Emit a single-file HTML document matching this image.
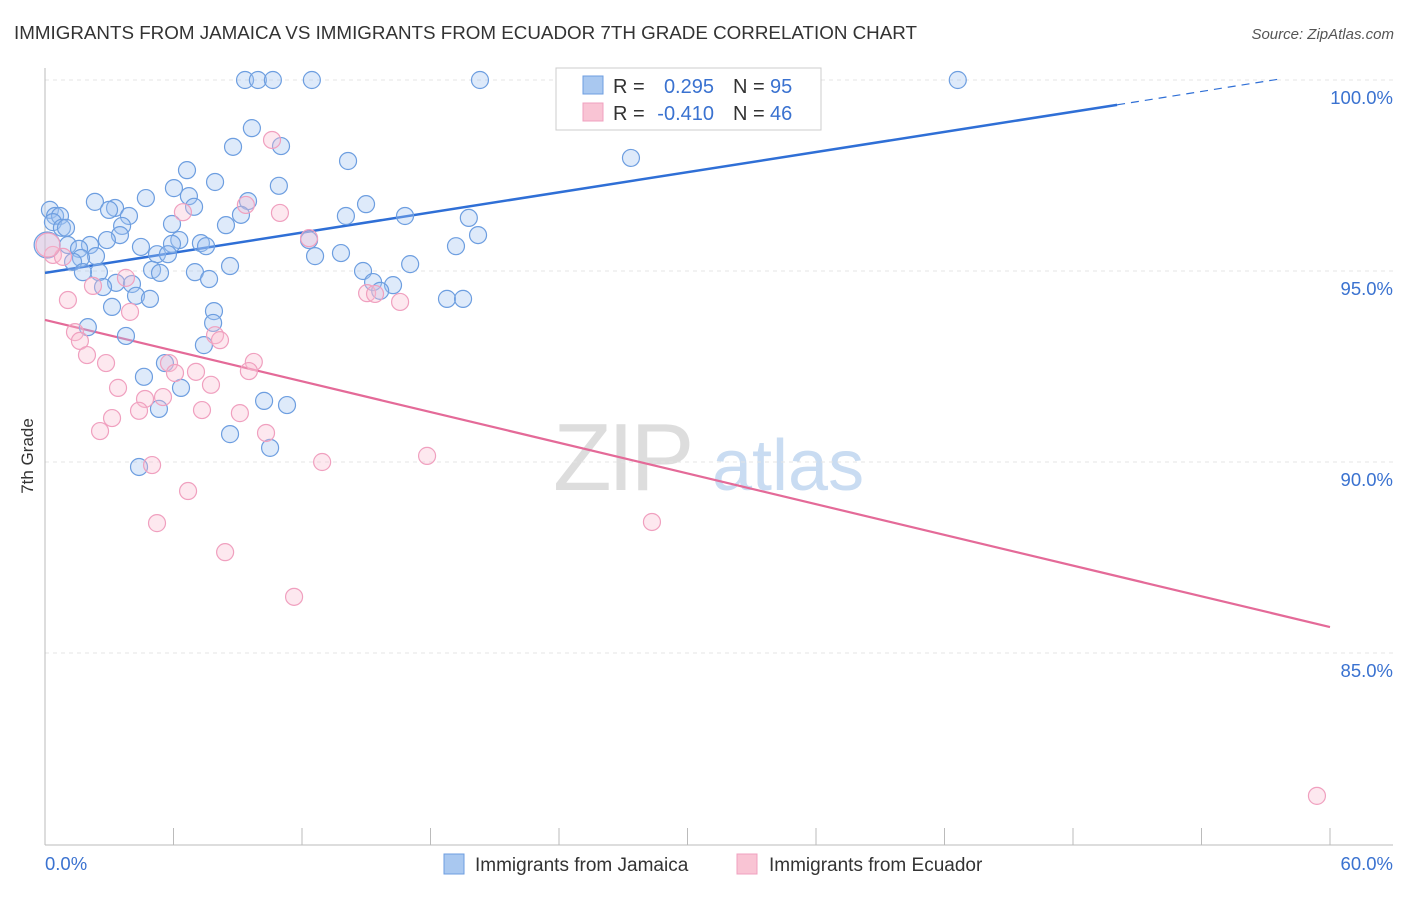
<!DOCTYPE html>
<html><head><meta charset="utf-8"><style>
body{margin:0;background:#fff;font-family:"Liberation Sans",sans-serif}
svg text{font-family:"Liberation Sans",sans-serif}
</style></head><body>
<svg id="chart" width="1406" height="892" xmlns="http://www.w3.org/2000/svg">
<text x="14" y="39" font-size="18.8" fill="#333">IMMIGRANTS FROM JAMAICA VS IMMIGRANTS FROM ECUADOR 7TH GRADE CORRELATION CHART</text>
<text x="1394" y="39" font-size="15" fill="#555" text-anchor="end" font-style="italic">Source: ZipAtlas.com</text>
<g>
<text x="553" y="490" font-size="96" fill="#ddd" font-family="Liberation Serif" letter-spacing="-4">ZIP</text>
<text x="712" y="490" font-size="72" fill="#c9dcf2">atlas</text>
</g>
<g id="grid"></g>
<g id="axes"></g>
<g id="trend"></g>
<g id="pts"></g>
<text transform="translate(33,456) rotate(-90)" font-size="17" fill="#333" text-anchor="middle">7th Grade</text>
<g>
<rect x="556" y="68" width="265" height="62" fill="#fff" stroke="#ccc"/>
<rect x="583" y="76" width="20" height="18" fill="#a9c8f0" stroke="#6d9ee0"/>
<rect x="583" y="103" width="20" height="18" fill="#f9c4d4" stroke="#f0a0bf"/>
<text x="613" y="93" font-size="20" fill="#333">R =</text>
<text x="714" y="93" font-size="20" fill="#3a72d0" text-anchor="end">0.295</text>
<text x="733" y="93" font-size="20" fill="#333">N =</text>
<text x="770" y="93" font-size="20" fill="#3a72d0">95</text>
<text x="613" y="120" font-size="20" fill="#333">R =</text>
<text x="714" y="120" font-size="20" fill="#3a72d0" text-anchor="end">-0.410</text>
<text x="733" y="120" font-size="20" fill="#333">N =</text>
<text x="770" y="120" font-size="20" fill="#3a72d0">46</text>
</g>
<g>
<rect x="444" y="854" width="20" height="20" fill="#a9c8f0" stroke="#6d9ee0"/>
<text x="475" y="871" font-size="19" fill="#333">Immigrants from Jamaica</text>
<rect x="737" y="854" width="20" height="20" fill="#f9c4d4" stroke="#f0a0bf"/>
<text x="769" y="871" font-size="19" fill="#333">Immigrants from Ecuador</text>
</g>
</svg>
<script>
const xTicks=[0,6,12,18,24,30,36,42,48,54,60];
const yGrid=[100,95,90,85];
const yLabels=["100.0%","95.0%","90.0%","85.0%"];
const xLabels=["0.0%","60.0%"];
const blueX=[9.34,9.94,10.64,12.46,20.31,42.62,9.66,11.02,8.78,14.15,27.36,6.63,10.92,7.94,6.02,4.71,2.33,6.72,9.48,14.99,6.96,3.27,2.99,3.92,9.15,14.05,16.81,19.79,0.23,0.47,0.7,0.37,0.79,0.98,3.6,5.93,8.45,3.5,20.22,2.89,6.27,12.33,7.28,7.52,5.93,4.48,2.1,1.07,19.19,13.82,5.23,5.74,1.59,2.38,1.68,1.31,12.61,17.05,8.64,5.0,5.37,7.0,2.52,1.77,14.85,7.66,15.32,16.25,15.65,3.32,4.06,2.71,4.25,4.9,18.77,19.52,3.13,7.89,7.85,2.0,3.78,7.42,5.6,4.62,6.35,10.23,11.3,5.32,8.64,10.51,4.39,0.1];
const blueY=[100,100,100,100,100,100,98.74,98.27,98.25,97.88,97.96,97.64,97.23,97.33,97.17,96.91,96.81,96.96,96.83,96.75,96.68,96.65,96.6,96.44,96.47,96.44,96.44,96.39,96.6,96.44,96.44,96.28,96.13,96.13,96.18,96.23,96.2,95.94,95.94,95.81,95.81,95.81,95.73,95.65,95.71,95.63,95.68,95.68,95.65,95.47,95.44,95.44,95.58,95.39,95.34,95.24,95.39,95.18,95.13,95.03,94.95,94.97,94.97,94.97,95.0,94.79,94.71,94.63,94.48,94.69,94.66,94.58,94.35,94.27,94.27,94.27,94.06,93.95,93.64,93.53,93.3,93.06,92.59,92.23,91.94,91.6,91.49,91.39,90.73,90.37,89.87,95.68];
const pinkX=[10.6,6.44,10.97,9.38,12.33,0.37,0.84,3.78,2.24,15.04,15.41,16.58,1.07,3.97,1.4,1.63,7.94,8.17,1.96,2.85,5.79,9.75,6.07,9.52,7.05,3.41,7.75,4.67,5.51,4.39,3.13,7.33,9.1,2.57,10.32,5.0,12.94,17.84,6.68,5.23,28.34,8.41,11.63,59.39,0.14];
const pinkY=[98.43,96.54,96.52,96.73,95.86,95.42,95.37,94.82,94.61,94.42,94.4,94.19,94.24,93.93,93.4,93.17,93.32,93.19,92.8,92.59,92.59,92.62,92.33,92.38,92.36,91.94,92.02,91.65,91.7,91.34,91.15,91.36,91.28,90.81,90.76,89.92,90.0,90.16,89.24,88.4,88.43,87.64,86.47,81.26,95.68];
const blueTrendX=[0,50.06,57.7];
const blueTrendY=[94.95,99.35,100.03];
const pinkTrendX=[0,60];
const pinkTrendY=[93.72,85.68];
const NS="http://www.w3.org/2000/svg";
const sx=v=>45+v*(1285/60);
const sy=v=>80+(100-v)*38.2;
function mk(tag,attrs,parent){const e=document.createElementNS(NS,tag);for(const k in attrs)e.setAttribute(k,attrs[k]);parent.appendChild(e);return e;}
const grid=document.getElementById('grid'),axes=document.getElementById('axes'),trend=document.getElementById('trend'),pts=document.getElementById('pts');
yGrid.forEach((v,i)=>{
 const l=mk('line',{x1:45,x2:1393,y1:sy(v),y2:sy(v),stroke:'#e4e4e4','stroke-dasharray':'4,4'},grid);
 
 
 const t=mk('text',{x:1393,y:sy(v)+24,'font-size':18.5,fill:'#3a72d0','text-anchor':'end'},axes);
 t.textContent=yLabels[i];
 
 
});
const ya=mk('line',{x1:45,x2:45,y1:68,y2:845,stroke:'#bbb'},axes);


const xa=mk('line',{x1:45,x2:1393,y1:845,y2:845,stroke:'#bbb'},axes);


xTicks.forEach(v=>{
 const t=mk('line',{x1:sx(v),x2:sx(v),y1:845,y2:828,stroke:'#bbb'},axes);
 
 
});
[[0,'start',45],[60,'end',1393]].forEach((a,i)=>{
 const t=mk('text',{x:a[2],y:870,'font-size':18.5,fill:'#3a72d0','text-anchor':a[1]},axes);
 t.textContent=xLabels[i];
 
 
});
blueX.forEach((x,i)=>{
 const c=mk('circle',{cx:sx(x),cy:sy(blueY[i]),r:i===blueX.length-1?13:8.5,fill:'rgba(160,195,240,0.35)',stroke:'#6d9ee0','stroke-width':1.2},pts);
 
 
});
pinkX.forEach((x,i)=>{
 const c=mk('circle',{cx:sx(x),cy:sy(pinkY[i]),r:i===pinkX.length-1?12:8.5,fill:'rgba(248,190,210,0.35)',stroke:'#f0a0bf','stroke-width':1.2},pts);
 
 
});
const b1=mk('line',{x1:sx(blueTrendX[0]),y1:sy(blueTrendY[0]),x2:sx(blueTrendX[1]),y2:sy(blueTrendY[1]),stroke:'#2f6fd6','stroke-width':2.5},trend);


const b2=mk('line',{x1:sx(blueTrendX[1]),y1:sy(blueTrendY[1]),x2:sx(blueTrendX[2]),y2:sy(blueTrendY[2]),stroke:'#2f6fd6','stroke-width':1.2,'stroke-dasharray':'8,6'},trend);


const p1=mk('line',{x1:sx(pinkTrendX[0]),y1:sy(pinkTrendY[0]),x2:sx(pinkTrendX[1]),y2:sy(pinkTrendY[1]),stroke:'#e46a98','stroke-width':2.2},trend);


</script>
</body></html>
